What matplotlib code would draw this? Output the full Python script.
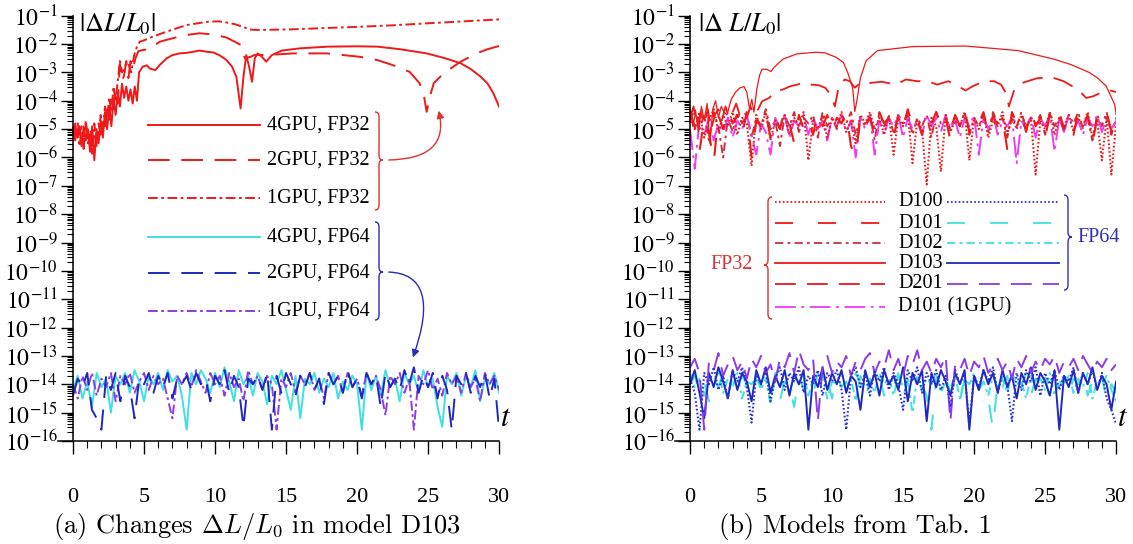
import numpy as np
import matplotlib
matplotlib.use('Agg')
import matplotlib.pyplot as plt
import matplotlib.transforms as mtransforms
from matplotlib.lines import Line2D
from matplotlib.path import Path
from matplotlib.patches import PathPatch, FancyArrowPatch
from matplotlib.ticker import LogLocator, FuncFormatter, FixedLocator, NullFormatter

plt.rcParams['font.family'] = ['Liberation Serif', 'DejaVu Serif']
plt.rcParams['mathtext.fontset'] = 'stix'
plt.rcParams['lines.scale_dashes'] = False

W, H = 1133, 544

# ---------------- data (log10 of |dL/L0|) ----------------
# common time grid of the noisy FP64 / FP32 records
t_grid = np.linspace(0, 30, 91)

# panel (a): model D103, FP32
t_a_4gpu32 = [0, 0.15, 0.3, 0.45, 0.6, 0.75, 0.9, 1.05, 1.2, 1.35,
              1.5, 1.65, 1.8, 1.95, 2.1, 2.25, 2.4, 2.55, 2.7, 2.85,
              3.0, 3.15, 3.3, 3.45, 3.6, 3.75, 3.9, 4.05, 4.2, 4.35,
              4.5, 4.65, 4.9, 5.2, 5.4, 5.8, 6.1, 6.6, 7.0, 7.5,
              8.0, 8.5, 8.9, 9.4, 9.9, 10.3, 10.8, 11.2, 11.5, 11.8,
              12.0, 12.2, 12.4, 12.6, 12.8, 13.0, 13.3, 13.6, 14.0, 14.7,
              16.0, 18.0, 20.0, 21.4, 23.0, 24.9, 26.2, 27.3, 28.0, 28.7,
              29.2, 29.6, 30.0]
lg_a_4gpu32 = [-5.2, -4.8, -5.3, -4.9, -5.6, -4.9, -5.4, -5.0, -5.8, -4.9,
               -6.1, -5.0, -5.5, -4.7, -5.3, -4.4, -5.0, -4.2, -4.9, -3.9,
               -4.5, -3.7, -4.2, -3.4, -3.9, -3.5, -4.0, -3.6, -4.1, -3.5,
               -4.0, -3.0, -2.8, -2.75, -2.86, -2.92, -2.74, -2.5, -2.39, -2.33,
               -2.31, -2.27, -2.23, -2.27, -2.3, -2.39, -2.56, -2.8, -3.15, -4.27,
               -3.15, -2.39, -2.8, -3.33, -2.5, -2.33, -2.45, -2.62, -2.39, -2.23,
               -2.15, -2.09, -2.08, -2.09, -2.18, -2.33, -2.5, -2.68, -2.88, -3.15,
               -3.4, -3.74, -4.21]

t_a_2gpu32 = [0, 0.15, 0.3, 0.45, 0.6, 0.75, 0.9, 1.05, 1.2, 1.35,
              1.5, 1.65, 1.8, 1.95, 2.1, 2.25, 2.4, 2.55, 2.7, 2.85,
              3.0, 3.15, 3.3, 3.45, 3.6, 3.75, 3.9, 4.05, 4.2, 4.4,
              4.6, 5.0, 5.3, 5.6, 6.1, 6.6, 7.3, 8.0, 8.9, 9.9,
              10.8, 11.4, 11.8, 12.1, 12.5, 12.8, 13.6, 15.5, 17.9, 20.2,
              21.4, 22.5, 23.7, 24.4, 24.7, 24.9, 25.1, 25.4, 26.1, 27.3,
              28.4, 29.2, 30.0]
lg_a_2gpu32 = [-5.0, -5.4, -4.7, -5.2, -4.9, -5.7, -4.8, -5.3, -4.9, -5.6,
               -5.1, -5.6, -4.8, -5.2, -4.6, -4.9, -4.3, -4.7, -3.8, -4.3,
               -3.6, -4.1, -2.7, -3.3, -3.1, -2.6, -3.2, -2.6, -2.9, -2.5,
               -2.25, -2.2, -2.2, -2.09, -1.92, -1.85, -1.76, -1.68, -1.62, -1.66,
               -1.77, -1.92, -2.03, -2.5, -2.45, -2.38, -2.39, -2.33, -2.33, -2.45,
               -2.56, -2.74, -2.98, -3.38, -3.8, -4.39, -3.9, -3.38, -3.03, -2.62,
               -2.33, -2.18, -2.07]

t_a_1gpu32 = [0, 0.15, 0.3, 0.45, 0.6, 0.75, 0.9, 1.05, 1.2, 1.35,
              1.5, 1.65, 1.8, 1.95, 2.1, 2.25, 2.4, 2.55, 2.7, 2.85,
              3.0, 3.15, 3.3, 3.45, 3.6, 3.75, 3.9, 4.1, 4.3, 4.5,
              4.7, 5.1, 5.6, 6.6, 8.0, 9.0, 9.6, 10.3, 10.8, 11.4,
              12.0, 12.4, 12.7, 13.5, 15.5, 17.5, 20.2, 22.5, 24.9, 27.5,
              30.0]
lg_a_1gpu32 = [-4.9, -5.3, -5.0, -5.6, -5.1, -5.3, -4.7, -5.5, -5.2, -5.9,
               -4.8, -5.4, -5.2, -4.5, -5.0, -4.2, -4.6, -3.9, -4.4, -3.5,
               -4.0, -3.3, -2.6, -3.0, -2.9, -2.65, -2.7, -3.0, -2.4, -2.1,
               -1.92, -1.85, -1.74, -1.56, -1.33, -1.25, -1.21, -1.2, -1.24, -1.3,
               -1.4, -1.48, -1.5, -1.5, -1.48, -1.44, -1.39, -1.34, -1.27, -1.2,
               -1.13]

# panel (a): model D103, FP64 (on t_grid)
lg_a_4gpu64 = [-14.2, -13.7, -14.5, -13.9, -14.8, -13.6, -14.1, -13.8, -15.0, -13.7,
               -14.0, -13.6, -14.3, -13.5, -13.9, -14.6, -13.7, -14.0, -13.6, -14.2,
               -13.5, -13.9, -13.7, -14.4, -15.6, -13.6, -14.0, -13.5, -13.8, -14.3,
               -13.6, -14.1, -13.4, -13.9, -14.6, -13.5, -14.0, -13.7, -14.4, -13.6,
               -13.9, -14.7, -13.7, -14.0, -13.5, -14.2, -14.9, -13.7, -15.2, -13.8,
               -14.0, -13.6, -14.3, -13.8, -14.1, -13.6, -14.5, -13.9, -14.2, -13.7,
               -14.0, -15.6, -13.6, -14.2, -13.7, -14.4, -13.5, -14.1, -13.8, -14.6,
               -13.6, -14.0, -13.7, -14.3, -13.5, -14.1, -13.8, -14.8, -15.5, -13.7,
               -14.0, -13.6, -14.4, -13.7, -14.1, -13.5, -14.6, -13.8, -14.0, -13.6, -14.3]
lg_a_2gpu64 = [-14.4, -13.8, -14.1, -13.6, -14.9, -15.2, -15.6, -13.7, -14.2, -13.6,
               -14.6, -13.7, -14.1, -15.2, -13.8, -14.0, -13.6, -14.3, -13.7, -14.1,
               -13.6, -14.5, -13.8, -14.0, -13.7, -14.2, -13.6, -14.0, -13.8, -14.6,
               -13.7, -14.0, -13.5, -14.3, -13.7, -14.1, -15.5, -13.8, -14.0, -13.7,
               -14.2, -13.6, -15.6, -13.7, -14.3, -13.6, -14.0, -14.4, -13.7, -14.1,
               -13.6, -14.2, -13.8, -14.7, -13.6, -14.0, -13.7, -14.3, -13.5, -14.1,
               -13.8, -14.5, -13.6, -14.0, -13.7, -14.8, -13.6, -14.1, -13.8, -14.2,
               -13.5, -14.0, -13.4, -14.3, -13.7, -14.1, -13.6, -14.5, -13.7, -14.2,
               -15.6, -13.7, -14.0, -13.6, -14.3, -13.7, -14.1, -13.6, -14.5, -13.8, -15.6]
lg_a_1gpu64 = [-14.0, -14.5, -13.7, -14.2, -13.6, -14.4, -13.8, -14.1, -13.6, -14.6,
               -13.7, -14.0, -13.6, -14.3, -13.9, -13.6, -14.2, -13.7, -14.0, -13.8,
               -14.5, -15.2, -13.7, -14.0, -13.6, -14.1, -13.5, -13.9, -14.3, -13.6,
               -14.0, -13.7, -14.4, -13.6, -14.1, -13.8, -14.6, -13.5, -14.0, -13.7,
               -14.2, -13.7, -14.0, -15.6, -13.8, -14.1, -13.6, -14.3, -13.7, -14.0,
               -13.6, -14.2, -13.8, -14.5, -13.6, -14.0, -13.7, -14.3, -13.6, -14.1,
               -13.8, -14.4, -13.6, -14.0, -13.7, -14.2, -15.1, -13.7, -14.0, -13.6,
               -14.3, -13.8, -15.6, -13.7, -14.0, -13.5, -14.2, -13.8, -14.4, -13.6,
               -14.0, -13.7, -14.3, -13.6, -14.1, -13.8, -14.6, -13.6, -14.0, -13.7, -14.2]

# panel (b): FP32 models
lg_b_d100_32 = [-4.6, -5.0, -4.4, -5.3, -4.7, -4.3, -5.1, -4.5, -4.9, -4.4,
                -5.2, -4.6, -4.8, -6.3, -4.5, -5.0, -4.4, -5.4, -4.7, -4.9,
                -4.5, -5.2, -4.6, -4.9, -4.4, -6.1, -4.7, -5.0, -4.5, -5.3,
                -4.6, -4.9, -4.4, -5.1, -4.7, -5.5, -4.5, -4.8, -4.4, -5.0,
                -4.6, -5.2, -4.5, -5.9, -4.6, -4.9, -4.4, -6.2, -4.7, -5.0,
                -6.95, -4.6, -4.9, -6.5, -4.5, -5.1, -4.7, -4.9, -4.4, -6.1,
                -4.6, -5.0, -4.5, -5.3, -4.7, -4.9, -4.4, -5.2, -4.6, -5.0,
                -4.5, -4.9, -4.6, -6.6, -4.7, -5.0, -4.4, -5.2, -4.6, -4.9,
                -4.5, -5.1, -4.6, -4.9, -4.4, -5.3, -4.7, -6.1, -4.6, -6.6, -4.8]
lg_b_d101_32 = [-4.4, -4.9, -5.8, -4.6, -5.1, -6.2, -4.5, -5.0, -4.3, -4.8,
                -4.5, -5.2, -4.4, -6.0, -4.7, -4.9, -4.4, -5.3, -4.6, -5.0,
                -4.3, -4.8, -5.5, -4.5, -5.0, -4.6, -5.2, -4.4, -4.9, -4.5,
                -5.1, -4.6, -4.8, -4.4, -5.6, -6.0, -4.5, -4.9, -4.6, -5.1,
                -4.4, -4.8, -4.6, -5.3, -4.5, -5.0, -4.3, -4.9, -4.6, -5.2,
                -4.5, -4.8, -4.4, -5.0, -4.6, -5.4, -4.5, -4.9, -4.3, -5.1,
                -4.6, -4.8, -4.4, -5.2, -4.5, -4.9, -4.6, -5.7, -4.4, -4.8,
                -4.5, -5.1, -4.3, -4.9, -4.6, -5.3, -4.5, -4.8, -4.4, -5.0,
                -4.6, -5.2, -4.4, -4.9, -4.5, -5.5, -4.6, -4.8, -4.4, -5.1, -4.7]
lg_b_d102_32 = [-4.7, -4.3, -5.0, -4.5, -5.4, -4.4, -4.9, -6.0, -4.6, -5.1,
                -4.4, -4.8, -4.5, -5.3, -4.6, -4.9, -4.3, -5.0, -4.7, -5.6,
                -4.5, -4.9, -4.4, -5.1, -4.6, -4.8, -4.5, -5.3, -4.4, -4.9,
                -4.6, -5.0, -4.5, -4.8, -4.4, -5.2, -4.6, -4.9, -4.5, -5.4,
                -4.4, -4.9, -4.6, -5.1, -4.5, -4.8, -4.4, -5.2, -4.6, -4.9,
                -4.5, -5.3, -4.4, -4.8, -4.6, -5.0, -4.5, -4.9, -4.4, -5.2,
                -4.6, -4.9, -4.5, -5.1, -4.4, -4.8, -4.6, -5.3, -4.5, -4.9,
                -4.4, -5.0, -4.6, -4.8, -4.5, -5.2, -4.4, -4.9, -4.6, -5.1,
                -4.5, -4.8, -4.4, -5.0, -4.6, -5.4, -4.5, -4.9, -4.4, -5.2, -4.6]
lg_b_d101_1gpu = [-5.0, -6.4, -4.7, -5.2, -4.6, -5.4, -4.8, -5.1, -4.6, -5.3,
                  -4.7, -5.0, -4.5, -5.2, -5.9, -4.8, -5.1, -5.9, -4.6, -5.0,
                  -4.5, -5.3, -4.7, -4.9, -4.5, -5.2, -4.6, -5.0, -4.7, -5.4,
                  -4.6, -4.9, -4.5, -5.1, -4.7, -6.0, -4.6, -5.0, -4.5, -5.9,
                  -4.7, -5.2, -4.6, -4.9, -4.5, -5.3, -4.6, -5.0, -4.7, -5.2,
                  -4.5, -4.9, -4.6, -5.1, -4.5, -5.0, -4.7, -5.3, -4.6, -4.9,
                  -4.5, -5.9, -4.6, -5.0, -4.5, -5.2, -4.7, -4.9, -4.6, -6.2,
                  -4.7, -5.0, -4.5, -5.3, -4.6, -4.9, -4.5, -5.8, -4.6, -5.1,
                  -4.5, -5.0, -4.7, -5.2, -4.6, -4.9, -4.5, -5.1, -4.6, -5.0, -4.7]

t_b_d103_32 = [0, 0.2, 0.4, 0.6, 0.8, 1.0, 1.2, 1.4, 1.6, 1.8,
               2.0, 2.2, 2.4, 2.6, 2.9, 3.2, 3.5, 3.8, 4.0, 4.2,
               4.35, 4.5, 4.7, 4.9, 5.07, 5.4, 5.7, 5.9, 6.55, 7.5,
               8.8, 9.5, 10.3, 10.8, 11.1, 11.45, 11.6, 11.75, 12.0, 12.4,
               13.2, 15.7, 19.4, 23.1, 25.6, 26.8, 28.1, 28.7, 29.3, 29.9, 30.0]
lg_b_d103_32 = [-4.3, -4.9, -4.4, -5.1, -4.2, -4.7, -4.1, -5.5, -4.3, -4.0,
                -4.6, -4.2, -4.4, -4.5, -3.95, -3.7, -3.55, -3.5, -3.7, -4.3,
                -3.95, -4.4, -3.6, -3.1, -2.89, -2.89, -2.97, -2.83, -2.53, -2.35,
                -2.29, -2.31, -2.47, -2.65, -3.0, -3.54, -4.38, -4.0, -3.19, -2.59,
                -2.23, -2.09, -2.07, -2.23, -2.53, -2.72, -3.0, -3.2, -3.48, -4.13, -4.48]

t_b_d201_32 = [0, 0.25, 0.5, 0.75, 1.0, 1.25, 1.5, 1.75, 2.0, 2.25,
               2.5, 2.75, 3.0, 3.25, 3.5, 3.75, 4.0, 4.25, 4.5, 4.8,
               5.07, 5.57, 6.06, 6.55, 7.05, 7.54, 8.04, 8.53, 9.03, 9.52,
               9.8, 10.07, 10.2, 10.5, 10.9, 11.25, 11.6, 12.0, 12.7, 13.5,
               14.5, 15.2, 16.0, 16.7, 17.4, 18.2, 18.9, 19.4, 19.9, 20.7,
               21.4, 21.9, 22.3, 22.45, 22.8, 23.4, 24.4, 25.4, 26.3, 27.3,
               27.9, 28.4, 28.9, 29.6, 30.0]
lg_b_d201_32 = [-4.6, -4.2, -4.9, -4.4, -4.8, -4.3, -5.0, -4.5, -4.3, -4.7,
                -4.2, -4.6, -4.4, -4.1, -4.5, -4.3, -4.6, -4.2, -4.5, -4.3,
                -4.02, -3.9, -3.66, -3.6, -3.49, -3.43, -3.37, -3.43, -3.45, -3.54,
                -3.72, -4.02, -4.2, -3.43, -3.25, -3.31, -3.54, -3.37, -3.37, -3.33,
                -3.43, -3.25, -3.31, -3.31, -3.43, -3.31, -3.49, -3.64, -3.49, -3.31,
                -3.31, -3.43, -3.78, -4.2, -3.66, -3.37, -3.21, -3.16, -3.31, -3.6,
                -3.9, -3.84, -3.72, -3.64, -3.69]

# panel (b): FP64 models (on t_grid)
lg_b_d100_64 = [-13.8, -14.3, -15.6, -13.6, -14.0, -13.4, -14.2, -13.7, -14.5, -13.5,
                -13.9, -13.4, -14.1, -15.35, -13.6, -14.0, -13.5, -14.6, -13.8, -13.4,
                -14.2, -13.6, -13.9, -13.4, -14.3, -13.7, -14.0, -13.5, -14.4, -13.6,
                -13.9, -13.5, -14.2, -15.6, -13.7, -13.4, -14.1, -13.6, -14.4, -13.5,
                -13.9, -13.4, -14.2, -13.6, -14.0, -14.9, -13.5, -13.9, -13.4, -14.3,
                -13.6, -14.0, -13.5, -14.2, -13.7, -14.8, -13.5, -14.0, -13.6, -15.4,
                -13.7, -14.1, -13.5, -13.9, -13.4, -14.3, -13.6, -14.0, -15.3, -13.6,
                -14.2, -13.5, -13.9, -13.4, -14.4, -13.6, -14.0, -13.5, -14.2, -13.7,
                -13.9, -13.4, -14.3, -13.6, -14.0, -13.5, -14.2, -13.6, -14.5, -14.9, -15.4]
lg_b_d101_64 = [-14.0, -13.7, -14.3, -13.9, -14.6, -13.8, -14.1, -13.6, -14.4, -13.8,
                -14.2, -13.7, -14.0, -14.5, -13.8, -14.1, -13.6, -14.3, -13.9, -14.6,
                -13.8, -14.1, -14.8, -13.7, -14.2, -13.9, -14.4, -13.6, -14.0, -13.8,
                -14.5, -13.7, -14.1, -13.9, -14.3, -13.6, -14.0, -14.6, -13.8, -14.2,
                -13.7, -14.4, -13.9, -14.1, -13.6, -14.5, -13.8, -14.2, -13.9, -14.0,
                -14.4, -15.6, -13.8, -14.1, -13.7, -14.3, -13.9, -14.6, -13.8, -14.0,
                -13.7, -14.2, -13.9, -14.5, -15.6, -13.8, -14.1, -13.7, -14.3, -13.9,
                -14.0, -13.6, -14.4, -13.8, -14.2, -13.7, -14.5, -13.9, -14.1, -13.7,
                -14.3, -13.8, -14.0, -13.6, -14.4, -13.9, -14.2, -13.7, -14.6, -14.0, -14.3]
lg_b_d102_64 = [-13.6, -14.1, -13.8, -14.4, -13.7, -14.0, -13.5, -14.3, -13.8, -14.1,
                -13.6, -14.5, -13.9, -14.0, -13.7, -14.2, -13.8, -14.7, -13.6, -14.1,
                -13.9, -14.3, -13.7, -14.0, -13.6, -14.4, -13.8, -14.1, -13.7, -14.5,
                -13.9, -14.0, -13.6, -14.2, -13.8, -14.6, -13.7, -14.1, -13.9, -14.3,
                -13.6, -14.0, -13.8, -14.4, -13.7, -14.1, -13.9, -15.0, -13.7, -14.2,
                -13.8, -14.0, -13.6, -14.3, -13.9, -14.1, -13.7, -14.5, -13.8, -14.0,
                -13.6, -14.2, -13.9, -14.4, -13.7, -14.1, -13.8, -14.3, -13.6, -14.0,
                -13.9, -14.5, -13.7, -14.1, -13.8, -14.2, -13.6, -14.4, -13.9, -14.0,
                -13.7, -14.3, -13.8, -14.1, -13.6, -14.5, -13.9, -14.0, -13.7, -14.2, -14.6]
lg_b_d103_64 = [-14.0, -13.5, -14.3, -15.2, -13.6, -14.1, -13.4, -13.9, -14.5, -13.5,
                -14.2, -13.6, -13.9, -14.6, -13.5, -14.0, -13.4, -14.3, -13.7, -14.1,
                -13.5, -14.4, -13.6, -14.0, -13.5, -15.6, -13.7, -14.1, -13.4, -14.2,
                -13.6, -14.0, -13.5, -14.3, -13.7, -13.9, -14.9, -13.5, -14.1, -13.6,
                -14.4, -13.5, -14.0, -13.7, -14.2, -13.4, -14.6, -13.6, -14.0, -13.5,
                -15.3, -13.6, -14.1, -13.5, -13.9, -14.4, -13.6, -14.0, -13.5, -15.6,
                -13.7, -14.2, -13.5, -14.0, -13.6, -14.3, -13.5, -14.1, -13.7, -14.5,
                -13.6, -14.0, -13.4, -14.2, -13.6, -13.9, -14.4, -13.5, -15.6, -13.7,
                -14.1, -13.5, -14.3, -13.6, -14.0, -13.4, -14.2, -13.7, -14.0, -14.9, -13.9]
lg_b_d201_64 = [-13.4, -13.1, -13.6, -15.6, -13.2, -13.5, -12.9, -13.7, -13.3, -13.0,
                -13.5, -13.2, -13.8, -13.1, -13.4, -13.0, -13.6, -13.3, -13.9, -13.1,
                -13.4, -12.9, -13.6, -12.8, -13.3, -13.5, -13.1, -15.3, -13.4, -13.0,
                -13.6, -13.2, -13.4, -13.0, -13.7, -13.2, -13.5, -13.1, -12.9, -13.6,
                -13.2, -13.4, -12.8, -13.5, -13.1, -13.7, -13.0, -13.3, -12.8, -13.5,
                -13.2, -13.6, -13.1, -13.4, -13.0, -15.3, -13.3, -13.5, -13.1, -13.7,
                -13.2, -13.4, -13.0, -13.6, -13.3, -13.1, -13.5, -13.2, -13.8, -13.1,
                -13.4, -13.0, -13.6, -13.2, -13.5, -13.1, -13.3, -13.0, -13.6, -13.2,
                -13.4, -13.1, -13.5, -13.0, -13.3, -13.6, -13.2, -13.4, -13.1, -13.5, -13.3]

legend_a = ['4GPU, FP32', '2GPU, FP32', '1GPU, FP32',
            '4GPU, FP64', '2GPU, FP64', '1GPU, FP64']
legend_b = ['D100', 'D101', 'D102', 'D103', 'D201', 'D101 (1GPU)']

# ---------------- styles ----------------
RED = '#f01818'
DRED = '#c8323c'
MAG = '#f03cf0'
CYAN = '#3fe0e0'
BLUE = '#1e28c0'
DBLUE = '#2a30d8'
VIOL = '#8c3ce6'

SOLID = '-'
DASH_A = (0, (15.6, 8.4))
DDOT_A = (0, (7, 2.5, 2, 2.5))
DOT_B = (0, (1.2, 1.6))
DASH_GAP = (0, (13, 18))
DDOT_B = (0, (6, 3, 2, 3))
DASH_B = (0, (15, 8))
DDOT_LONG = (0, (15, 4, 2, 4))

NOISE_LW = 1.4

fig = plt.figure(figsize=(W / 100, H / 100), dpi=100)
px = mtransforms.Affine2D().scale(1 / W, -1 / H).translate(0, 1) + fig.transFigure


def setup(ax):
    ax.set_yscale('log')
    ax.set_ylim(1e-16, 1e-1)
    ax.set_xlim(-1.05, 30)
    for s in ['top', 'right']:
        ax.spines[s].set_visible(False)
    ax.spines['left'].set_position(('data', 0))
    ax.spines['left'].set_linewidth(1.1)
    ax.spines['bottom'].set_linewidth(1.1)
    ax.yaxis.set_major_locator(LogLocator(base=10, numticks=30))
    ax.yaxis.set_minor_locator(LogLocator(base=10, subs=np.arange(2, 10), numticks=30))
    ax.yaxis.set_major_formatter(FuncFormatter(lambda v, p: r'$10^{%d}$' % round(np.log10(v))))
    ax.yaxis.set_minor_formatter(NullFormatter())
    ax.xaxis.set_major_locator(FixedLocator([0, 5, 10, 15, 20, 25, 30]))
    ax.xaxis.set_minor_locator(FixedLocator(list(range(0, 31))))
    ax.tick_params(axis='y', which='major', direction='out', length=9, width=1, labelsize=17, pad=2)
    ax.tick_params(axis='y', which='minor', direction='out', length=4.3, width=0.8)
    ax.tick_params(axis='x', which='major', direction='out', length=9, width=1, labelsize=16, pad=25)
    ax.tick_params(axis='x', which='minor', direction='out', length=4.8, width=0.8)
    ax.text(1.014, 0.035, r'$t$', transform=ax.transAxes, fontsize=22, ha='center', va='baseline')


def curve(ax, t, lg, color, ls, lw=1.0, z=2):
    ax.plot(t, 10.0 ** np.asarray(lg), color=color, linestyle=ls, lw=lw, zorder=z)


def brace(x, y0, y1, ym, w, side, color):
    # vertical curly brace in figure pixels, tip pointing to `side` (+1 right, -1 left)
    r = 5
    verts = [(x - side * w, y0), (x, y0), (x, y0 + r),
             (x, ym - r), (x, ym), (x + side * w, ym),
             (x, ym), (x, ym + r),
             (x, y1 - r), (x, y1), (x - side * w, y1)]
    codes = [Path.MOVETO, Path.CURVE3, Path.CURVE3,
             Path.LINETO, Path.CURVE3, Path.CURVE3,
             Path.CURVE3, Path.CURVE3,
             Path.LINETO, Path.CURVE3, Path.CURVE3]
    fig.add_artist(PathPatch(Path(verts, codes), transform=px, fill=False,
                             edgecolor=color, lw=1.0))


def key(x0, x1, y, color, ls, lw=1.4):
    fig.add_artist(Line2D([x0, x1], [y, y], transform=px, color=color, linestyle=ls, lw=lw))


# ---------------- panel (a) ----------------
ax_a = fig.add_axes([58.1 / W, (H - 441) / H, 441 / W, 425.3 / H])
setup(ax_a)
curve(ax_a, t_grid, lg_a_4gpu64, CYAN, SOLID, NOISE_LW)
curve(ax_a, t_grid, lg_a_1gpu64, VIOL, DDOT_A, NOISE_LW)
curve(ax_a, t_grid, lg_a_2gpu64, BLUE, DASH_A, NOISE_LW)
curve(ax_a, t_a_1gpu32, lg_a_1gpu32, RED, DDOT_A, 1.4)
curve(ax_a, t_a_2gpu32, lg_a_2gpu32, RED, DASH_A, 1.4)
curve(ax_a, t_a_4gpu32, lg_a_4gpu32, RED, SOLID, 1.4)
fig.text(79 / W, 1 - 24 / H, r'$|\Delta L/L_0|$', fontsize=19, va='center', ha='left')

rows_a = [125, 160, 198, 237, 273, 311]
colors_a = [RED, RED, RED, CYAN, BLUE, VIOL]
styles_a = [SOLID, DASH_A, DDOT_A, SOLID, DASH_A, DDOT_A]
for y, c, s, lab in zip(rows_a, colors_a, styles_a, legend_a):
    key(148, 260, y, c, s)
    fig.text(267 / W, 1 - y / H, lab, fontsize=14.5, va='center', ha='left')
brace(379, 112, 210, 160, 4, 1, '#e03030')
brace(379, 222, 320, 272, 4, 1, '#2a2ab8')
fig.add_artist(FancyArrowPatch((386, 160), (438, 108), transform=px,
                               connectionstyle='angle3,angleA=0,angleB=105', arrowstyle='-|>',
                               mutation_scale=11, color='#e03030', lw=1.0))
fig.add_artist(FancyArrowPatch((386, 272), (412, 360), transform=px,
                               connectionstyle='angle3,angleA=0,angleB=70', arrowstyle='-|>',
                               mutation_scale=11, color='#2a2ab8', lw=1.0))

# ---------------- panel (b) ----------------
ax_b = fig.add_axes([675.1 / W, (H - 441) / H, 441 / W, 425.3 / H])
setup(ax_b)
curve(ax_b, t_grid, lg_b_d101_64, CYAN, DASH_GAP, NOISE_LW)
curve(ax_b, t_grid, lg_b_d102_64, CYAN, DDOT_B, NOISE_LW)
curve(ax_b, t_grid, lg_b_d103_64, BLUE, SOLID, NOISE_LW)
curve(ax_b, t_grid, lg_b_d201_64, VIOL, DASH_B, NOISE_LW)
curve(ax_b, t_grid, lg_b_d100_64, DBLUE, DOT_B, 1.5)
curve(ax_b, t_grid, lg_b_d102_32, DRED, DDOT_B, NOISE_LW)
curve(ax_b, t_grid, lg_b_d101_1gpu, MAG, DDOT_LONG, NOISE_LW)
curve(ax_b, t_grid, lg_b_d100_32, RED, DOT_B, 1.5)
curve(ax_b, t_grid, lg_b_d101_32, RED, DASH_GAP, 1.5)
curve(ax_b, t_b_d201_32, lg_b_d201_32, RED, DASH_B, 1.3)
curve(ax_b, t_b_d103_32, lg_b_d103_32, RED, SOLID, 0.9)
fig.text(698 / W, 1 - 24 / H, r'$|\Delta\ L/L_0|$', fontsize=19, va='center', ha='left')

rows_b = [202, 223, 243, 263, 284, 307]
left_c = [RED, RED, DRED, RED, RED, MAG]
left_s = [DOT_B, DASH_GAP, DDOT_B, SOLID, DASH_B, DDOT_LONG]
right_c = [DBLUE, CYAN, CYAN, BLUE, VIOL]
right_s = [DOT_B, DASH_GAP, DDOT_B, SOLID, DASH_B]
for i, (y, lab) in enumerate(zip(rows_b, legend_b)):
    key(775, 885, y, left_c[i], left_s[i], 1.3)
    fig.text(898 / W, 1 - y / H, lab, fontsize=14.5, va='center', ha='left')
    if i < 5:
        key(947, 1059, y, right_c[i], right_s[i], 1.3)
brace(768, 197, 319, 265, 4, -1, '#e03030')
brace(1068, 195, 290, 237, 4, 1, '#3030c0')
fig.text(753 / W, 1 - 265 / H, 'FP32', fontsize=14.5, color='#e03030', va='center', ha='right')
fig.text(1077 / W, 1 - 237 / H, 'FP64', fontsize=14.5, color='#3030c0', va='center', ha='left')

# ---------------- captions ----------------
fig.text(257 / W, 1 - 527 / H, r'(a) Changes $\Delta L/L_0$ in model D103', fontsize=19,
         ha='center', va='center', fontfamily='cmr10', math_fontfamily='cm')
fig.text(855 / W, 1 - 527 / H, '(b) Models from Tab. 1', fontsize=19,
         ha='center', va='center', fontfamily='cmr10', math_fontfamily='cm')

fig.savefig('out.png', dpi=100)
